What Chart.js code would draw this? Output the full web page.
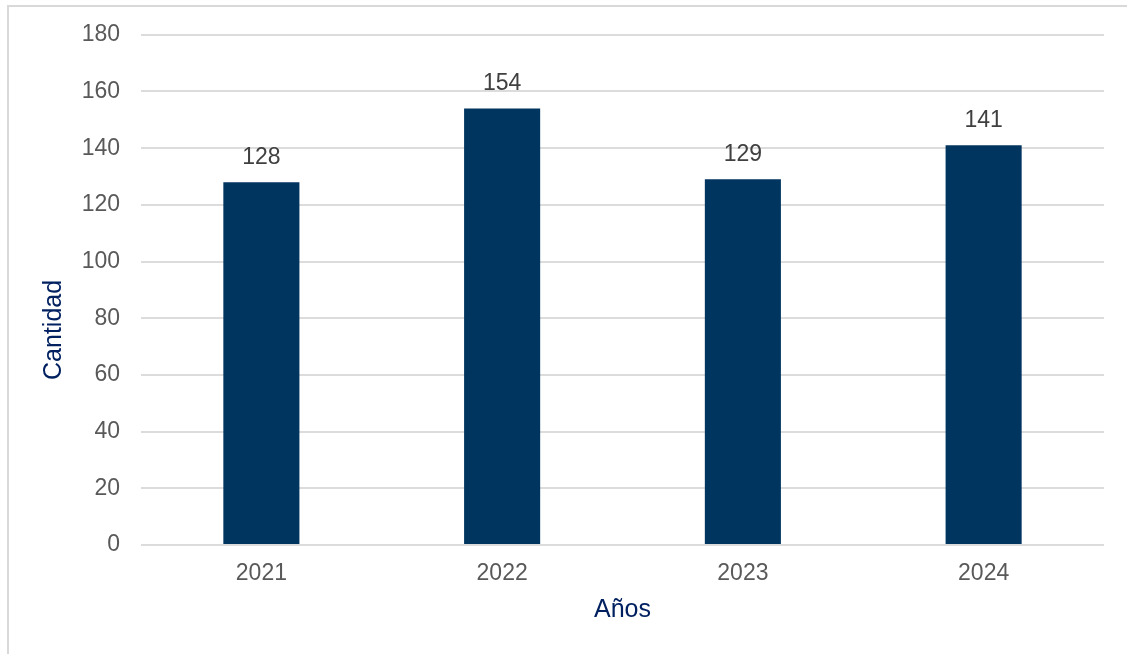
<!DOCTYPE html>
<html lang="es">
<head>
<meta charset="utf-8">
<title>Cantidad por año</title>
<script src="https://cdn.jsdelivr.net/npm/chart.js@4/dist/chart.umd.min.js"></script>
<style>
  html, body { margin: 0; padding: 0; background: #fff; overflow: hidden; }
  .frame { position: absolute; left: 7px; top: 5px; width: 1200px; height: 700px;
           border-left: 2px solid #d9d9d9; border-top: 2px solid #d9d9d9; }
  #chart { position: absolute; left: 0; top: 0; }
</style>
</head>
<body>
<div class="frame"></div>
<canvas id="chart" width="1127" height="654"></canvas>
<script>
// datos
const years = ['2021', '2022', '2023', '2024'];
const counts = [128, 154, 129, 141];
const yTicks = [0, 20, 40, 60, 80, 100, 120, 140, 160, 180];

const FONT = "Arial, 'Liberation Sans', sans-serif";
const BAR_COLOR = '#003560';
const TITLE_COLOR = '#002060';
const TICK_COLOR = '#595959';
const GRID_COLOR = '#dcdcdc';

// etiquetas sobre las barras
const barLabels = {
  id: 'barLabels',
  afterDatasetsDraw(chart) {
    const ctx = chart.ctx;
    const meta = chart.getDatasetMeta(0);
    ctx.save();
    ctx.font = '23px ' + FONT;
    ctx.fillStyle = '#404040';
    ctx.textAlign = 'center';
    ctx.textBaseline = 'middle';
    meta.data.forEach((bar, i) => {
      ctx.fillText(String(counts[i]), bar.x, bar.y - 25);
    });
    ctx.restore();
  }
};

// título del eje Y (un poco más abajo que el centro, como en el original)
const yTitle = {
  id: 'yTitle',
  afterDraw(chart) {
    const ctx = chart.ctx;
    const area = chart.chartArea;
    ctx.save();
    ctx.font = '25px ' + FONT;
    ctx.fillStyle = TITLE_COLOR;
    ctx.textAlign = 'center';
    ctx.textBaseline = 'middle';
    ctx.translate(chart.scales.y.left + 54, (area.top + area.bottom) / 2 + 40);
    ctx.rotate(-Math.PI / 2);
    ctx.fillText('Cantidad', 0, 0);
    ctx.restore();
  }
};

const chart = new Chart(document.getElementById('chart'), {
  type: 'bar',
  data: {
    labels: years,
    datasets: [{
      label: 'Cantidad',
      data: counts,
      backgroundColor: BAR_COLOR,
      borderWidth: 0,
      categoryPercentage: 1,
      barPercentage: 0.316
    }]
  },
  options: {
    responsive: false,
    animation: false,
    devicePixelRatio: 1,
    layout: { padding: { top: 34, right: 23, bottom: 0, left: 0 } },
    plugins: { legend: { display: false }, tooltip: { enabled: false } },
    scales: {
      x: {
        grid: { display: false, drawTicks: false },
        border: { display: false },
        ticks: { color: TICK_COLOR, font: { size: 23, family: FONT }, padding: 15 },
        title: {
          display: true, text: 'Años', color: TITLE_COLOR,
          font: { size: 25, family: FONT }, padding: { top: 0, bottom: 29 }
        },
        afterFit(scale) { scale.height = 109; }
      },
      y: {
        min: yTicks[0],
        max: yTicks[yTicks.length - 1],
        afterBuildTicks(scale) { scale.ticks = yTicks.map(v => ({ value: v })); },
        grid: { color: GRID_COLOR, lineWidth: 2, drawTicks: false },
        border: { display: false },
        ticks: { color: TICK_COLOR, font: { size: 23, family: FONT }, padding: 21 },
        afterFit(scale) { scale.width = 141; }
      }
    }
  },
  plugins: [barLabels, yTitle]
});
</script>
</body>
</html>
